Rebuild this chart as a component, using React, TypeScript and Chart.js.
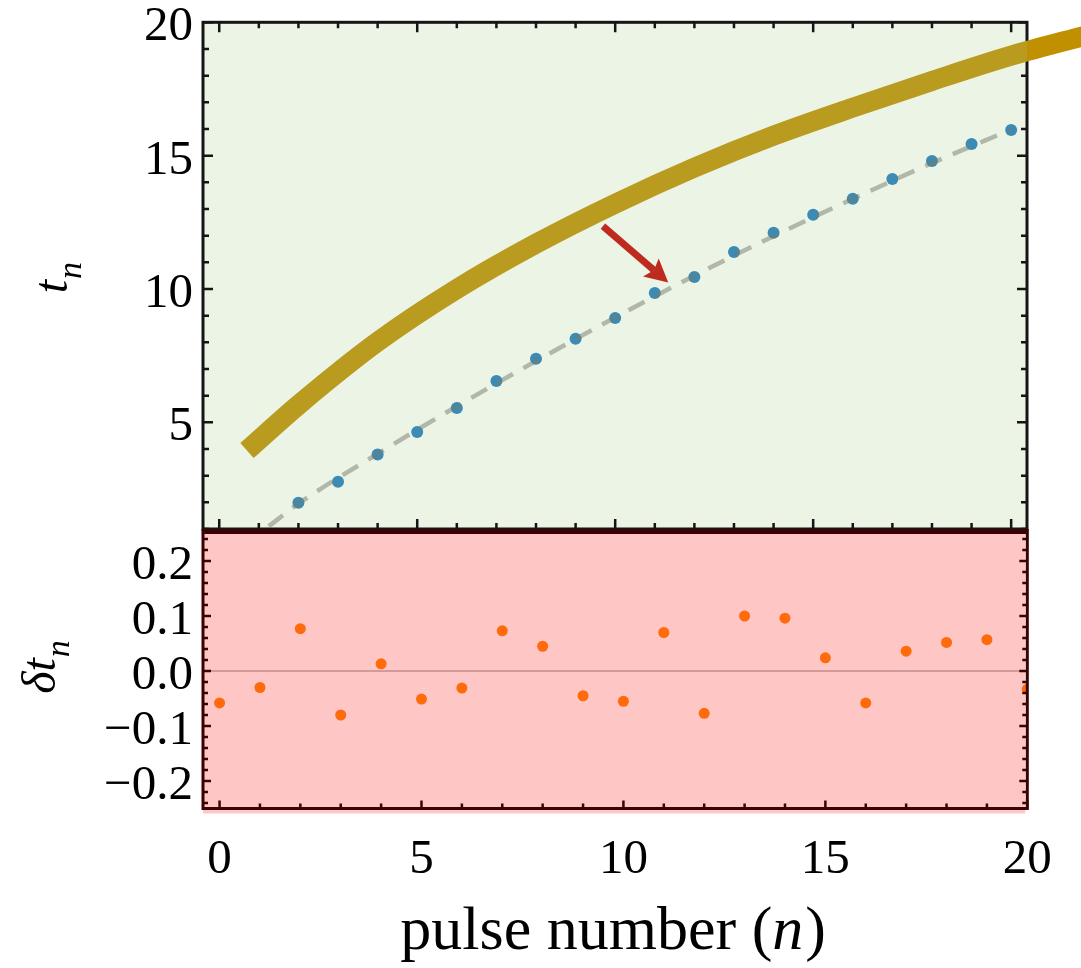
import React, { useEffect, useRef } from "react";
import { Chart, registerables } from "chart.js";

Chart.register(...registerables);

// ---------------- data ----------------
const PULSE_N = [2, 3, 4, 5, 6, 7, 8, 9, 10, 11, 12, 13, 14, 15, 16, 17, 18, 19, 20];
const T_MEASURED = [1.98, 2.77, 3.79, 4.64, 5.54, 6.55, 7.38, 8.13, 8.91, 9.85, 10.45, 11.39, 12.11, 12.78, 13.38, 14.12, 14.8, 15.44, 15.96];

const FIT_N = [1.25, 2, 4, 6, 8, 10, 12, 14, 16, 18, 20];
const FIT_T = [1.1, 1.95, 3.82, 5.6, 7.3, 8.93, 10.5, 11.98, 13.38, 14.72, 15.98];

const THEORY_N = [0.7, 2, 4, 6, 8, 10, 12, 14, 16, 18, 20, 22];
const THEORY_T = [3.94, 5.65, 8.02, 10.0, 11.7, 13.2, 14.55, 15.75, 16.8, 17.8, 18.75, 19.55];

const DELTA_N = [0, 1, 2, 3, 4, 5, 6, 7, 8, 9, 10, 11, 12, 13, 14, 15, 16, 17, 18, 19, 20];
const DELTA_T = [-0.058, -0.03, 0.077, -0.08, 0.013, -0.051, -0.031, 0.073, 0.045, -0.045, -0.055, 0.07, -0.077, 0.1, 0.096, 0.024, -0.058, 0.036, 0.052, 0.057, -0.033];

const TOP_Y_TICKS = [5, 10, 15, 20];
const X_TICKS = [0, 5, 10, 15, 20];
const BOT_Y_TICKS = [-0.2, -0.1, 0, 0.1, 0.2];

const ARROW_FROM = { n: 9.69, t: 12.36 };
const ARROW_TO = { n: 11.34, t: 10.24 };

// ---------------- styles ----------------
const FONT = "'Liberation Serif', 'Times New Roman', serif";
const TOP_BG = "#ecf4e6";
const BOT_BG = "#ffc6c6";
const GOLD_IN = "#b99b20";
const GOLD_OUT = "#c09000";
const BLUE = "#3b8bb5";
const ORANGE = "#ff6a0a";
const ARROW = "#bf2a1f";
const TOP_FRAME = "#151515";
const BOT_FRAME = "#3a0303";

type TickCfg = {
  color: string;
  width: number;
  major: number;
  minor: number;
  xStep: number;
  xMajorEvery: number;
  yStep: number;
  yMajorEvery: number;
  xTop: boolean;
  xBottom: boolean;
};

function drawInwardTicks(chart: any, cfg: TickCfg) {
  const { ctx, chartArea: a, scales } = chart;
  const xs = scales.x;
  const ys = scales.y;
  ctx.save();
  ctx.strokeStyle = cfg.color;
  ctx.lineWidth = cfg.width;
  ctx.lineCap = "butt";
  const kx0 = Math.ceil(xs.min / cfg.xStep - 1e-9);
  const kx1 = Math.floor(xs.max / cfg.xStep + 1e-9);
  for (let k = kx0; k <= kx1; k++) {
    const px = xs.getPixelForValue(k * cfg.xStep);
    const len = k % cfg.xMajorEvery === 0 ? cfg.major : cfg.minor;
    ctx.beginPath();
    if (cfg.xBottom) {
      ctx.moveTo(px, a.bottom);
      ctx.lineTo(px, a.bottom - len);
    }
    if (cfg.xTop) {
      ctx.moveTo(px, a.top);
      ctx.lineTo(px, a.top + len);
    }
    ctx.stroke();
  }
  const ky0 = Math.ceil(ys.min / cfg.yStep - 1e-9);
  const ky1 = Math.floor(ys.max / cfg.yStep + 1e-9);
  for (let k = ky0; k <= ky1; k++) {
    const py = ys.getPixelForValue(k * cfg.yStep);
    const len = k % cfg.yMajorEvery === 0 ? cfg.major : cfg.minor;
    ctx.beginPath();
    ctx.moveTo(a.left, py);
    ctx.lineTo(a.left + len, py);
    ctx.moveTo(a.right, py);
    ctx.lineTo(a.right - len, py);
    ctx.stroke();
  }
  ctx.restore();
}

// draw a rotated math label like "t_n" or "δt_n"
function drawRotatedMath(ctx: CanvasRenderingContext2D, main: string, sub: string, baseX: number, cy: number) {
  ctx.save();
  ctx.translate(baseX, cy);
  ctx.rotate(-Math.PI / 2);
  ctx.fillStyle = "#000";
  ctx.textBaseline = "alphabetic";
  const mainFont = `italic 48px ${FONT}`;
  const subFont = `italic 34px ${FONT}`;
  ctx.font = mainFont;
  const w1 = ctx.measureText(main).width;
  ctx.font = subFont;
  const w2 = ctx.measureText(sub).width;
  const start = -(w1 + w2 + 1) / 2;
  ctx.font = mainFont;
  ctx.textAlign = "left";
  ctx.fillText(main, start, 0);
  ctx.font = subFont;
  ctx.fillText(sub, start + w1 + 1, 14);
  ctx.restore();
}

const topPanelPlugin = {
  id: "topPanel",
  beforeDatasetsDraw(chart: any) {
    const { ctx, chartArea: a } = chart;
    ctx.save();
    ctx.fillStyle = TOP_BG;
    ctx.fillRect(a.left, a.top, a.right - a.left, a.bottom - a.top);
    ctx.restore();
    drawInwardTicks(chart, {
      color: TOP_FRAME, width: 2.5, major: 10, minor: 6,
      xStep: 1, xMajorEvery: 5, yStep: 1, yMajorEvery: 5, xTop: true, xBottom: true,
    });
    ctx.save();
    ctx.strokeStyle = TOP_FRAME;
    ctx.lineWidth = 3;
    ctx.strokeRect(a.left, a.top, a.right - a.left, a.bottom - a.top);
    ctx.restore();
  },
  afterDatasetsDraw(chart: any) {
    const { ctx, scales } = chart;
    const x0 = scales.x.getPixelForValue(ARROW_FROM.n);
    const y0 = scales.y.getPixelForValue(ARROW_FROM.t);
    const x1 = scales.x.getPixelForValue(ARROW_TO.n);
    const y1 = scales.y.getPixelForValue(ARROW_TO.t);
    const ang = Math.atan2(y1 - y0, x1 - x0);
    const c = Math.cos(ang);
    const s = Math.sin(ang);
    const headLen = 23;
    const headHalf = 12;
    const bx = x1 - headLen * c;
    const by = y1 - headLen * s;
    ctx.save();
    ctx.strokeStyle = ARROW;
    ctx.fillStyle = ARROW;
    ctx.lineWidth = 7;
    ctx.lineCap = "butt";
    ctx.beginPath();
    ctx.moveTo(x0, y0);
    ctx.lineTo(bx + 4 * c, by + 4 * s);
    ctx.stroke();
    ctx.beginPath();
    ctx.moveTo(x1, y1);
    ctx.lineTo(bx - headHalf * s, by + headHalf * c);
    ctx.lineTo(bx + 4 * c, by + 4 * s);
    ctx.lineTo(bx + headHalf * s, by - headHalf * c);
    ctx.closePath();
    ctx.fill();
    ctx.restore();
  },
  afterDraw(chart: any) {
    const { ctx, chartArea: a } = chart;
    drawRotatedMath(ctx, "t", "n", a.left - 136, (a.top + a.bottom) / 2 + 2);
  },
};

const botPanelPlugin = {
  id: "botPanel",
  beforeDatasetsDraw(chart: any) {
    const { ctx, chartArea: a, scales } = chart;
    ctx.save();
    ctx.fillStyle = BOT_BG;
    ctx.fillRect(a.left, a.top, a.right - a.left - 2, a.bottom - a.top + 5);
    const y0 = scales.y.getPixelForValue(0);
    ctx.strokeStyle = "rgba(120,70,70,0.45)";
    ctx.lineWidth = 1.5;
    ctx.beginPath();
    ctx.moveTo(a.left, y0);
    ctx.lineTo(a.right, y0);
    ctx.stroke();
    ctx.restore();
  },
  afterDatasetsDraw(chart: any) {
    const { ctx, chartArea: a } = chart;
    drawInwardTicks(chart, {
      color: BOT_FRAME, width: 2.5, major: 8, minor: 5,
      xStep: 1, xMajorEvery: 5, yStep: 0.02, yMajorEvery: 5, xTop: false, xBottom: true,
    });
    ctx.save();
    ctx.strokeStyle = BOT_FRAME;
    ctx.lineWidth = 3;
    ctx.beginPath();
    ctx.moveTo(a.left, a.top);
    ctx.lineTo(a.left, a.bottom);
    ctx.lineTo(a.right, a.bottom);
    ctx.lineTo(a.right, a.top);
    ctx.stroke();
    ctx.lineWidth = 5;
    ctx.beginPath();
    ctx.moveTo(a.left - 1.5, a.top - 2);
    ctx.lineTo(a.right + 1.5, a.top - 2);
    ctx.stroke();
    ctx.restore();
  },
  afterDraw(chart: any) {
    const { ctx, chartArea: a } = chart;
    drawRotatedMath(ctx, "\u03b4t", "n", a.left - 148, (a.top + a.bottom) / 2 - 4);
    // x axis title: pulse number (n)
    ctx.save();
    ctx.fillStyle = "#000";
    ctx.textBaseline = "alphabetic";
    ctx.textAlign = "left";
    const reg = `62px ${FONT}`;
    const ital = `italic 62px ${FONT}`;
    const p1 = "pulse number (";
    const p2 = "n";
    const p3 = ")";
    ctx.font = reg;
    const w1 = ctx.measureText(p1).width;
    const w3 = ctx.measureText(p3).width;
    ctx.font = ital;
    const w2 = ctx.measureText(p2).width;
    const total = w1 + w2 + w3 + 2;
    const cx = (a.left + a.right) / 2 - 2;
    let x = cx - total / 2;
    const by = 949;
    ctx.font = reg;
    ctx.fillText(p1, x, by);
    x += w1;
    ctx.font = ital;
    ctx.fillText(p2, x, by);
    x += w2 + 2;
    ctx.font = reg;
    ctx.fillText(p3, x, by);
    ctx.restore();
  },
};

function goldStroke(context: any) {
  const chart = context.chart;
  const area = chart.chartArea;
  if (!area) return GOLD_IN;
  const g = chart.ctx.createLinearGradient(0, 0, chart.width, 0);
  const stop = Math.min(Math.max(area.right / chart.width, 0), 1);
  g.addColorStop(0, GOLD_IN);
  g.addColorStop(stop, GOLD_IN);
  g.addColorStop(stop, GOLD_OUT);
  g.addColorStop(1, GOLD_OUT);
  return g;
}

const TOP_CANVAS_OFFSET = 60;

export default function App() {
  const topRef = useRef<HTMLCanvasElement>(null);
  const botRef = useRef<HTMLCanvasElement>(null);

  useEffect(() => {
    const top = new Chart(topRef.current as HTMLCanvasElement, {
      type: "scatter",
      data: {
        datasets: [
          {
            type: "line",
            label: "fit",
            data: FIT_N.map((n, i) => ({ x: n, y: FIT_T[i] })),
            borderColor: "rgba(118,124,108,0.5)",
            borderWidth: 4.5,
            borderDash: [18, 12],
            pointRadius: 0,
            cubicInterpolationMode: "monotone",
            fill: false,
          } as any,
          {
            type: "scatter",
            label: "measured",
            data: PULSE_N.map((n, i) => ({ x: n, y: T_MEASURED[i] })),
            pointRadius: 6,
            pointBackgroundColor: BLUE,
            pointBorderWidth: 0,
          } as any,
          {
            type: "line",
            label: "theory",
            data: THEORY_N.map((n, i) => ({ x: n, y: THEORY_T[i] })),
            borderColor: goldStroke,
            borderWidth: 20,
            borderCapStyle: "butt",
            pointRadius: 0,
            cubicInterpolationMode: "monotone",
            fill: false,
            clip: false,
          } as any,
        ],
      },
      options: {
        responsive: false,
        animation: false,
        events: [],
        layout: { padding: { left: 0, right: 54, top: 22.3 + TOP_CANVAS_OFFSET, bottom: 111 } },
        plugins: { legend: { display: false }, tooltip: { enabled: false } },
        scales: {
          x: { type: "linear", min: -0.41, max: 20.4, display: false },
          y: {
            type: "linear",
            min: 1,
            max: 20,
            afterFit: (s: any) => { s.width = 203; },
            afterBuildTicks: (s: any) => { s.ticks = TOP_Y_TICKS.map((v) => ({ value: v })); },
            grid: { display: false, drawTicks: false },
            border: { display: false },
            ticks: { color: "#000", padding: 10, labelOffset: 5, font: { family: FONT, size: 49 } },
          },
        },
      } as any,
      plugins: [topPanelPlugin],
    });

    const bot = new Chart(botRef.current as HTMLCanvasElement, {
      type: "scatter",
      data: {
        datasets: [
          {
            label: "residual",
            data: DELTA_N.map((n, i) => ({ x: n, y: DELTA_T[i] })),
            pointRadius: 5.5,
            pointBackgroundColor: ORANGE,
            pointBorderWidth: 0,
            clip: 0,
          } as any,
        ],
      },
      options: {
        responsive: false,
        animation: false,
        events: [],
        layout: { padding: { left: 0, right: 53.7, top: 533.5, bottom: 0 } },
        plugins: { legend: { display: false }, tooltip: { enabled: false } },
        scales: {
          x: {
            type: "linear",
            min: -0.41,
            max: 20,
            afterFit: (s: any) => { s.height = 159.5; },
            afterBuildTicks: (s: any) => { s.ticks = X_TICKS.map((v) => ({ value: v })); },
            grid: { display: false, drawTicks: false },
            border: { display: false },
            ticks: { color: "#000", padding: 22, font: { family: FONT, size: 49 } },
          },
          y: {
            type: "linear",
            min: -0.25,
            max: 0.25,
            afterFit: (s: any) => { s.width = 203; },
            afterBuildTicks: (s: any) => { s.ticks = BOT_Y_TICKS.map((v) => ({ value: v })); },
            grid: { display: false, drawTicks: false },
            border: { display: false },
            ticks: {
              color: "#000",
              padding: 10,
              labelOffset: 5,
              font: { family: FONT, size: 49 },
              callback: (v: any) => (Number(v) < 0 ? "\u2212" : "") + Math.abs(Number(v)).toFixed(1),
            },
          },
        },
      } as any,
      plugins: [botPanelPlugin],
    });

    return () => {
      top.destroy();
      bot.destroy();
    };
  }, []);

  return (
    <div style={{ position: "fixed", left: 0, top: 0, width: 1081, height: 968, overflow: "hidden", background: "#fff" }}>
      <canvas
        ref={topRef}
        width={1081}
        height={700}
        style={{ position: "absolute", left: 0, top: -TOP_CANVAS_OFFSET, width: 1081, height: 700, zIndex: 1 }}
      />
      <canvas
        ref={botRef}
        width={1081}
        height={968}
        style={{ position: "absolute", left: 0, top: 0, width: 1081, height: 968, zIndex: 2 }}
      />
    </div>
  );
}
